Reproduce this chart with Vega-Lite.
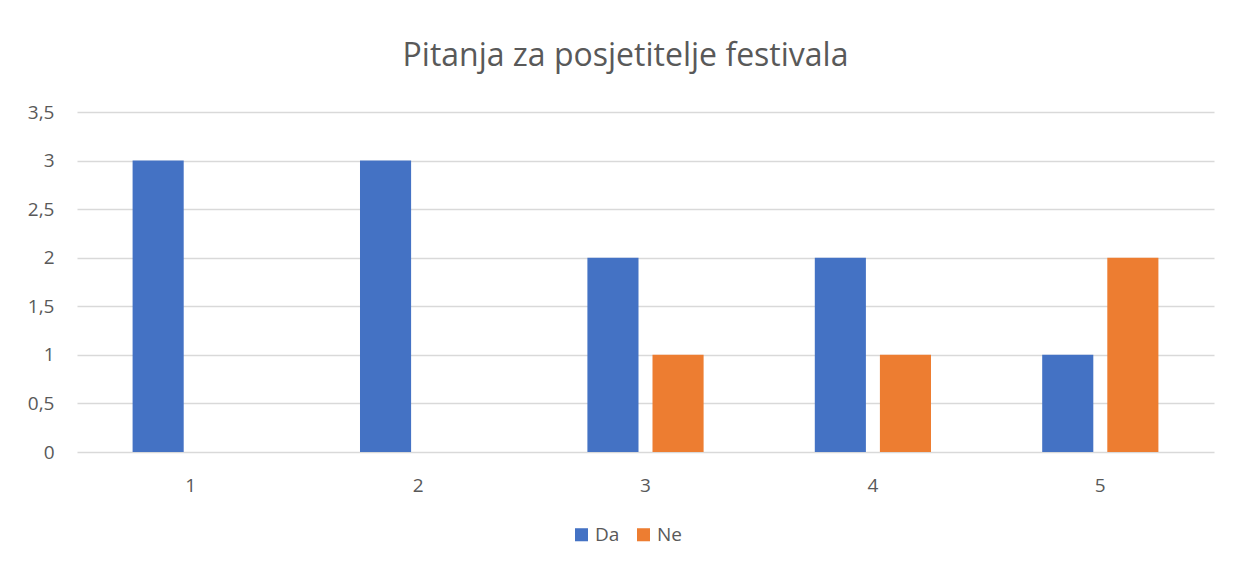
{
  "$schema": "https://vega.github.io/schema/vega-lite/v6.json",
  "autosize": "none",
  "width": 1137,
  "height": 340,
  "padding": {"left": 77, "top": 112, "right": 28, "bottom": 113},
  "background": "white",
  "title": {
    "text": "Pitanja za posjetitelje festivala",
    "font": "Open Sans",
    "fontSize": 32,
    "fontWeight": "normal",
    "color": "#595959",
    "anchor": "middle",
    "dx": -20,
    "offset": 30
  },
  "data": {
    "values": [
      {"pitanje": "1", "odgovor": "Da", "broj": 3},
      {"pitanje": "1", "odgovor": "Ne", "broj": 0},
      {"pitanje": "2", "odgovor": "Da", "broj": 3},
      {"pitanje": "2", "odgovor": "Ne", "broj": 0},
      {"pitanje": "3", "odgovor": "Da", "broj": 2},
      {"pitanje": "3", "odgovor": "Ne", "broj": 1},
      {"pitanje": "4", "odgovor": "Da", "broj": 2},
      {"pitanje": "4", "odgovor": "Ne", "broj": 1},
      {"pitanje": "5", "odgovor": "Da", "broj": 1},
      {"pitanje": "5", "odgovor": "Ne", "broj": 2}
    ]
  },
  "mark": {"type": "bar"},
  "encoding": {
    "x": {
      "field": "pitanje",
      "type": "nominal",
      "scale": {"paddingInner": 0, "paddingOuter": 0},
      "axis": {
        "title": null,
        "labelAngle": 0,
        "ticks": false,
        "domain": false,
        "labelPadding": 24,
        "labelFont": "Open Sans",
        "labelFontSize": 19,
        "labelColor": "#595959"
      }
    },
    "xOffset": {
      "field": "odgovor",
      "type": "nominal",
      "scale": {"paddingInner": 0.215, "paddingOuter": 0.854}
    },
    "y": {
      "field": "broj",
      "type": "quantitative",
      "scale": {"domain": [0, 3.5], "nice": false},
      "axis": {
        "title": null,
        "values": [0, 0.5, 1, 1.5, 2, 2.5, 3, 3.5],
        "labelExpr": "replace(format(datum.value, '~g'), '.', ',')",
        "ticks": false,
        "domain": false,
        "labelPadding": 23,
        "labelFont": "Open Sans",
        "labelFontSize": 19,
        "labelColor": "#595959",
        "gridColor": "#D9D9D9",
        "gridWidth": 1.5
      }
    },
    "color": {
      "field": "odgovor",
      "type": "nominal",
      "scale": {"domain": ["Da", "Ne"], "range": ["#4472C4", "#ED7D31"]},
      "legend": {
        "title": null,
        "orient": "none",
        "direction": "horizontal",
        "legendX": 495,
        "legendY": 413,
        "symbolType": "square",
        "symbolSize": 170,
        "symbolStrokeWidth": 0,
        "symbolOpacity": 1,
        "labelFont": "Open Sans",
        "labelFontSize": 19,
        "labelColor": "#595959",
        "labelOffset": 4,
        "columnPadding": 14
      }
    }
  },
  "config": {
    "view": {"stroke": null}
  }
}
